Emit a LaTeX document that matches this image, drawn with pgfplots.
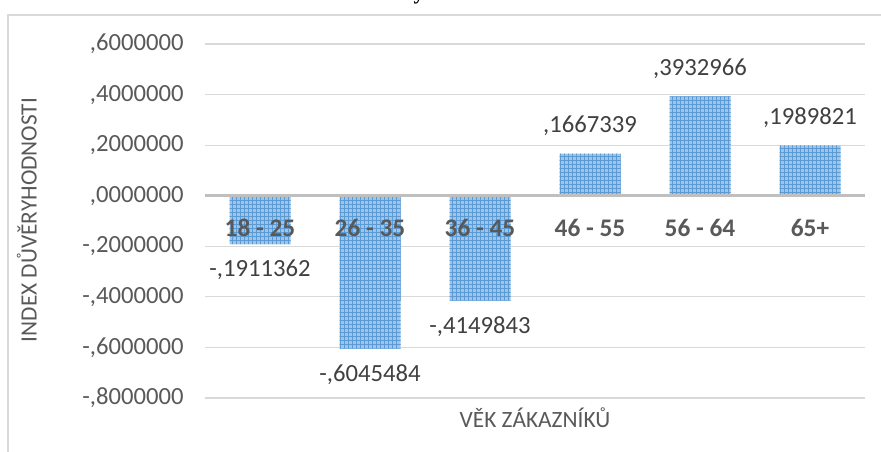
\documentclass[border=0pt]{standalone}
\usepackage{fontspec}
\setmainfont{Carlito}
\newfontfamily\seriffont{Liberation Serif}
\usepackage{pgfplots}
\pgfplotsset{compat=1.18}
\usetikzlibrary{patterns}
\definecolor{gridc}{RGB}{217,217,217}
\definecolor{zeroc}{RGB}{191,191,191}
\definecolor{txtc}{RGB}{89,89,89}
\definecolor{lblc}{RGB}{64,64,64}
\definecolor{barfill}{RGB}{160,196,232}
\definecolor{barline}{RGB}{91,155,213}
\begin{document}
\begin{tikzpicture}
\useasboundingbox (0pt,0pt) rectangle (660.75pt,339pt);
\clip (0pt,0pt) rectangle (660.75pt,339pt);
\draw[gridc, line width=0.9pt] (6pt,-15pt) rectangle (675pt,327.75pt);
\node[anchor=base, font=\seriffont\bfseries\fontsize{16}{18}\selectfont] at (314.25pt,339pt) {y};
\begin{axis}[
  at={(153.75pt,40.5pt)}, anchor=south west,
  scale only axis,
  width=495pt, height=265.5pt,
  xmin=-0.5, xmax=5.5,
  ymin=-0.8, ymax=0.6,
  axis line style={draw=none},
  major tick length=0pt,
  ytick={-0.8,-0.6,-0.4,-0.2,0,0.2,0.4,0.6},
  yticklabels={{-,8000000},{-,6000000},{-,4000000},{-,2000000},{,0000000},{,2000000},{,4000000},{,6000000}},
  xtick={0,1,2,3,4,5},
  xticklabels={},
  ymajorgrids,
  major grid style={draw=gridc, line width=0.9pt},
  yticklabel style={font=\fontsize{18.5}{20}\selectfont, text=txtc, xshift=-12.5pt},
  xlabel={VĚK ZÁKAZNÍKŮ},
  ylabel={INDEX DŮVĚRYHODNOSTI},
  xlabel style={at={(axis description cs:0.5,-0.0565)}, anchor=center, font=\fontsize{17.5}{20}\selectfont, text=txtc},
  ylabel style={at={(axis description cs:-0.27,0.503)}, anchor=center, font=\fontsize{17.5}{20}\selectfont, text=txtc},
  clip=false,
]
\addplot[ybar, bar width=45.75pt, bar shift=0pt, draw=none, fill=barfill,
  postaction={pattern=grid, pattern color=barline},
  point meta=explicit symbolic,
  nodes near coords,
  every node near coord/.append style={anchor=north, font=\fontsize{18.5}{20}\selectfont, text=lblc, inner ysep=12pt}
] coordinates {
  (0,-0.1911362) [-,1911362]
  (1,-0.6045484) [-,6045484]
  (2,-0.4149843) [-,4149843]
};
\addplot[ybar, bar width=45.75pt, bar shift=0pt, draw=none, fill=barfill,
  postaction={pattern=grid, pattern color=barline},
  point meta=explicit symbolic,
  nodes near coords,
  every node near coord/.append style={anchor=south, font=\fontsize{18.5}{20}\selectfont, text=lblc, inner ysep=13pt}
] coordinates {
  (3,0.1667339) [,1667339]
  (4,0.3932966) [,3932966]
  (5,0.1989821) [,1989821]
};
\addplot[zeroc, line width=2.2pt, forget plot] coordinates {(-0.5,0) (5.5,0)};
% category labels, drawn over the bars just below the zero line
\addplot[draw=none, no markers, forget plot,
  point meta=explicit symbolic,
  nodes near coords,
  every node near coord/.style={anchor=center, font=\bfseries\fontsize{19}{21}\selectfont, text=txtc}
] coordinates {
  (0,-0.1265) [18 - 25]
  (1,-0.1265) [26 - 35]
  (2,-0.1265) [36 - 45]
  (3,-0.1265) [46 - 55]
  (4,-0.1265) [56 - 64]
  (5,-0.1265) [65+]
};
\end{axis}
\end{tikzpicture}
\end{document}
